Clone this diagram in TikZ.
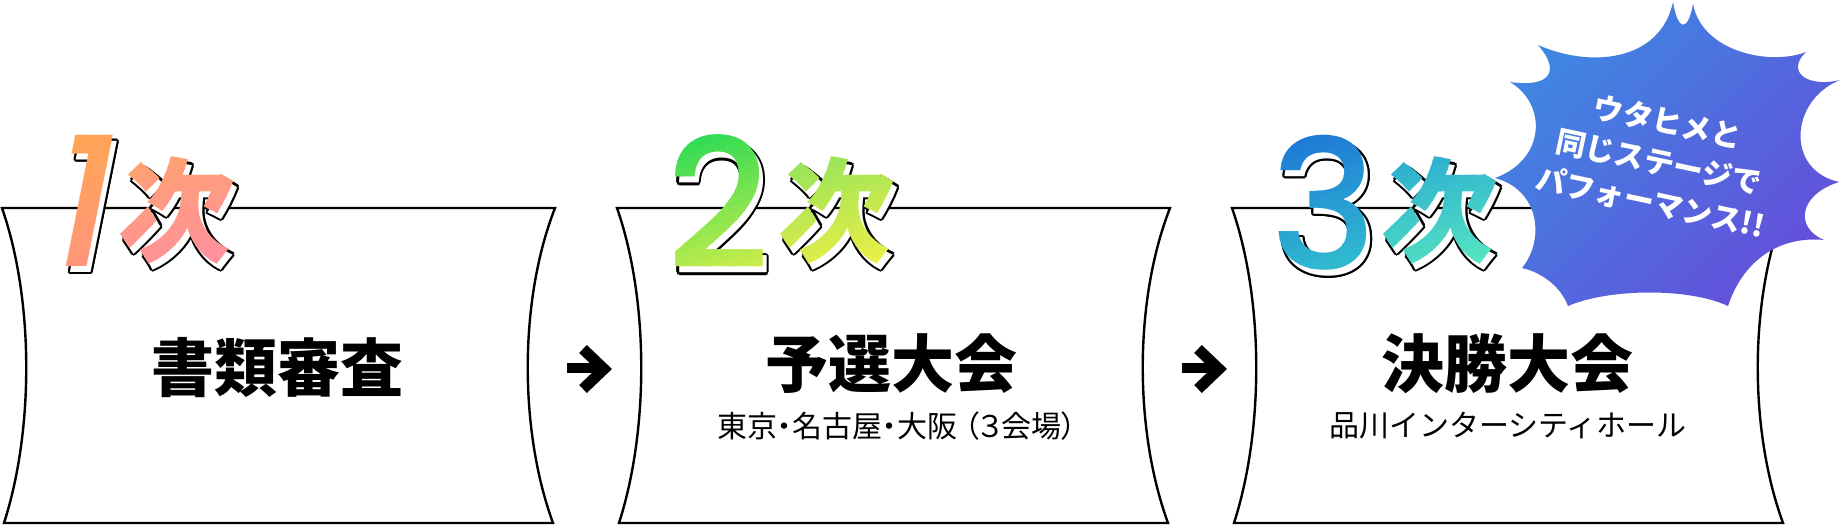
\documentclass[tikz,border=0pt]{standalone}
\usepackage{fontspec}
\newfontfamily\jp{Noto Sans CJK JP}
\newfontfamily\jpp{Noto Sans CJK JP}[RawFeature=+palt]
\IfFontExistsTF{Poppins Medium}
  {\newfontfamily\pop{Poppins Medium}\newcommand\popweight{}}
  {\newfontfamily\pop{Poppins}\newcommand\popweight{\bfseries}}
\definecolor{oA}{HTML}{FFA84E}\definecolor{oB}{HTML}{FF9382}
\definecolor{oC}{HTML}{FFA36C}\definecolor{oD}{HTML}{FF8FA3}
\definecolor{gA}{HTML}{1ED956}\definecolor{gB}{HTML}{D9EE4A}
\definecolor{gC}{HTML}{8BE25C}\definecolor{gD}{HTML}{F6F046}
\definecolor{cA}{HTML}{1C72D8}\definecolor{cB}{HTML}{33C4CE}
\definecolor{cC}{HTML}{27A6D2}\definecolor{cD}{HTML}{58EBC0}
\definecolor{bA}{HTML}{3E88E2}\definecolor{bB}{HTML}{6350DA}
\newcommand\digitfont{\pop\popweight\fontsize{180}{180}\selectfont}
\newcommand\kanjifont{\jp\bfseries\fontsize{114}{114}\selectfont}
% gradient glyph: x, y, slant, text, colour top, colour bottom, half width, half height
\newcommand\gradglyph[8]{%
  \foreach \i in {0,...,23}{%
    \pgfmathtruncatemacro\pct{round(\i*100/23)}%
    \colorlet{gtmp}{#6!\pct!#5}%
    \pgfmathsetmacro\ya{#2-#8-0.3*#7+\i*(2*#8+0.6*#7)/24}%
    \pgfmathsetmacro\yb{\ya+(2*#8+0.6*#7)/24+1}%
    \begin{scope}
      \clip (#1-#7,\ya+0.3*#7) -- (#1+#7,\ya-0.3*#7) -- (#1+#7,\yb-0.3*#7) -- (#1-#7,\yb+0.3*#7) -- cycle;
      \begin{scope}[shift={(#1,#2)}, xslant=#3]
        \node[transform shape, inner sep=0pt, text=gtmp] {#4};
      \end{scope}
    \end{scope}}}
% outlined white shadow glyph: x, y, slant, text
\newcommand\shadowglyph[4]{%
  \foreach \a in {0,30,...,330}{%
    \begin{scope}[shift={(#1+4,#2+6)}, shift={(\a:2.2)}, xslant=#3]
      \node[transform shape, inner sep=0pt, text=black] {#4};
    \end{scope}}
  \begin{scope}[shift={(#1+4,#2+6)}, xslant=#3]
    \node[transform shape, inner sep=0pt, text=white] {#4};
  \end{scope}}
\tikzset{
  stagebox/.style={draw=black, line width=2.4pt, fill=white},
  chev/.style={line width=11pt, line join=miter, miter limit=10},
  title/.style={font=\jp\bfseries\fontsize{63}{63}\selectfont, inner sep=0pt},
  sub/.style={font=\jp\fontsize{30}{30}\selectfont, inner sep=0pt},
  subp/.style={font=\jpp\fontsize{30}{30}\selectfont, inner sep=0pt},
}
\newcommand\stageshape[1]{%
  \draw[stagebox] (#1+2,208) -- (#1+555,208)
    .. controls (#1+519,300) and (#1+519,430) .. (#1+553,523)
    -- (#1+4,523) .. controls (#1+34,430) and (#1+34,300) .. cycle;}
\begin{document}
\begin{tikzpicture}[x=1pt,y=-1pt]
\useasboundingbox (0,0) rectangle (1840,525);
\fill[white] (0,0) rectangle (1840,525);
% boxes
\stageshape{0}
\stageshape{615}
\stageshape{1230}
% chevron arrows
\draw[chev] (583,349) -- (604,369) -- (583,389);
\draw[line width=10pt] (567,368) -- (600,368);
\draw[chev] (1198,349) -- (1219,369) -- (1198,389);
\draw[line width=10pt] (1182,368) -- (1215,368);
% burst
\shade[top color=bA, bottom color=bB, shading angle=45]
  (1538,45) .. controls (1590,68) and (1660,62) .. (1673,2)
  .. controls (1678,32) and (1688,32) .. (1693,4)
  .. controls (1702,52) and (1770,66) .. (1806,52)
  .. controls (1785,72) and (1808,88) .. (1840,80)
  .. controls (1790,100) and (1785,170) .. (1839,182)
  .. controls (1798,195) and (1795,228) .. (1824,240)
  .. controls (1785,236) and (1745,255) .. (1728,306)
  .. controls (1690,288) and (1610,288) .. (1568,306)
  .. controls (1560,285) and (1540,272) .. (1522,268)
  .. controls (1545,240) and (1540,190) .. (1495,178)
  .. controls (1545,160) and (1548,105) .. (1510,82)
  .. controls (1552,88) and (1560,70) .. (1538,45) -- cycle;
\node[font=\jp\bfseries\fontsize{30}{41}\selectfont, text=white, align=center, rotate=-12] (burst) at (1659,162) {ウタヒメと\\同じステージで\\パフォーマンス!!};
% step numbers
\shadowglyph{86}{201}{0.2}{\digitfont 1}
\shadowglyph{177}{210}{0.08}{\kanjifont 次}
\gradglyph{86}{201}{0.2}{\digitfont 1}{oA}{oB}{70}{70}
\gradglyph{177}{210}{0.08}{\kanjifont 次}{oC}{oD}{65}{60}
\shadowglyph{718}{202}{0}{\digitfont 2}
\shadowglyph{837}{210}{0.08}{\kanjifont 次}
\gradglyph{718}{202}{0}{\digitfont 2}{gA}{gB}{70}{70}
\gradglyph{837}{210}{0.08}{\kanjifont 次}{gC}{gD}{65}{60}
\shadowglyph{1324}{203}{0}{\digitfont 3}
\shadowglyph{1440}{210}{0.08}{\kanjifont 次}
\gradglyph{1324}{203}{0}{\digitfont 3}{cA}{cB}{70}{70}
\gradglyph{1440}{210}{0.08}{\kanjifont 次}{cC}{cD}{65}{60}
% titles
\node[title] (t1) at (277,368) {書類審査};
\node[title] (t2) at (891,364) {予選大会};
\node[subp] (s2) at (897,426) {東京・名古屋・大阪\hspace{7pt}（３会場）};
\node[title] (t3) at (1507,364) {決勝大会};
\node[sub] (s3) at (1508,426) {品川インターシティホール};
\end{tikzpicture}
\end{document}
